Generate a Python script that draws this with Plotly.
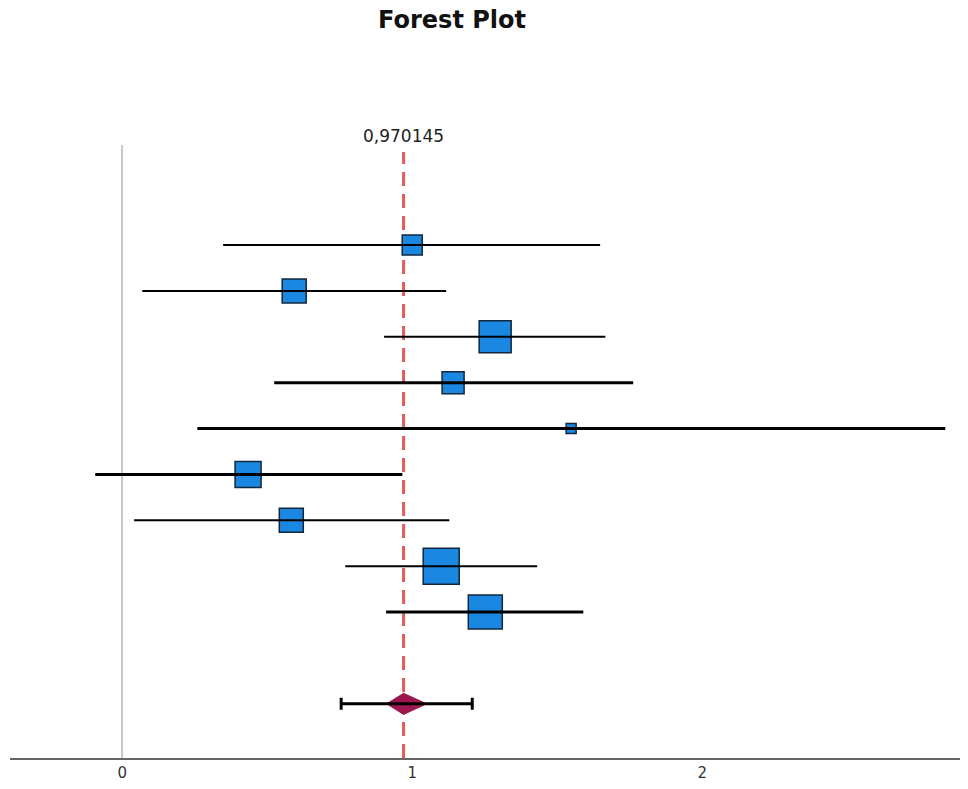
import plotly.graph_objects as go

# Study rows (top to bottom)
est = [1.00, 0.593, 1.286, 1.141, 1.548, 0.434, 0.583, 1.100, 1.252]
lo = [0.348, 0.069, 0.903, 0.524, 0.259, -0.093, 0.041, 0.769, 0.910]
hi = [1.648, 1.117, 1.666, 1.762, 2.838, 0.966, 1.128, 1.431, 1.590]
weight_px = [20, 24, 32, 22, 10, 26, 24, 36, 34]
line_w = [2, 2, 2, 3, 3, 3, 2, 2, 3]

# Pooled estimate
pooled = 0.970145
pooled_lo = 0.755
pooled_hi = 1.207
diamond_lo = 0.912
diamond_hi = 1.050
pooled_label = "0,970145"

rows = list(range(len(est)))
pooled_row = 10

FONT = "DejaVu Sans, Open Sans, sans-serif"

fig = go.Figure()

# squares
fig.add_trace(go.Scatter(
    x=est, y=rows, mode="markers",
    marker=dict(symbol="square", size=weight_px, color="#1a88e0", opacity=1,
                line=dict(color="#14263c", width=1.5)),
    showlegend=False, hoverinfo="x"))

# CI lines
for i in rows:
    fig.add_trace(go.Scatter(
        x=[lo[i], hi[i]], y=[i, i], mode="lines",
        line=dict(color="black", width=line_w[i]),
        showlegend=False, hoverinfo="skip"))

# diamond
h = 0.23
fig.add_trace(go.Scatter(
    x=[diamond_lo, pooled, diamond_hi, pooled, diamond_lo],
    y=[pooled_row, pooled_row - h, pooled_row, pooled_row + h, pooled_row],
    mode="lines", fill="toself", fillcolor="#9c1650",
    line=dict(color="#9c1650", width=1), showlegend=False, hoverinfo="skip"))

# pooled CI with caps
fig.add_trace(go.Scatter(
    x=[pooled], y=[pooled_row], mode="markers",
    marker=dict(size=1, color="rgba(0,0,0,0)"),
    error_x=dict(type="data", symmetric=False,
                 array=[pooled_hi - pooled], arrayminus=[pooled - pooled_lo],
                 color="black", thickness=3, width=6),
    showlegend=False, hoverinfo="skip"))

fig.add_shape(type="line", x0=pooled, x1=pooled, xref="x", yref="paper",
              y0=0, y1=0.9886, layer="below",
              line=dict(color="#e65c5c", width=3, dash="14px,8px"))

fig.add_annotation(x=pooled, xref="x", y=1.0, yref="paper", yanchor="bottom",
                   text=pooled_label, showarrow=False, yshift=-3,
                   font=dict(size=17, color="#222", family=FONT))

fig.update_layout(
    width=968, height=789,
    paper_bgcolor="white", plot_bgcolor="white",
    margin=dict(l=10, r=8, t=145, b=31),
    font=dict(family=FONT),
    title=dict(text="<b>Forest Plot</b>", x=0.467, xanchor="center",
               y=0.975, yanchor="middle", font=dict(size=24, color="#111", family=FONT)),
    xaxis=dict(range=[-0.387, 2.889], tickvals=[0, 1, 2], ticktext=["0", "1", "2"],
               showgrid=False, zeroline=True, zerolinecolor="#c8c8c8", zerolinewidth=2,
               showline=True, linecolor="#666", linewidth=2,
               tickfont=dict(size=15, color="#333", family=FONT), ticks=""),
    yaxis=dict(range=[11.18, -2.18], showgrid=False, zeroline=False,
               showticklabels=False, showline=False),
)

fig.write_html("out.html", config={"displayModeBar": False},
               post_script="document.body.style.margin='0';document.body.style.padding='0';")
